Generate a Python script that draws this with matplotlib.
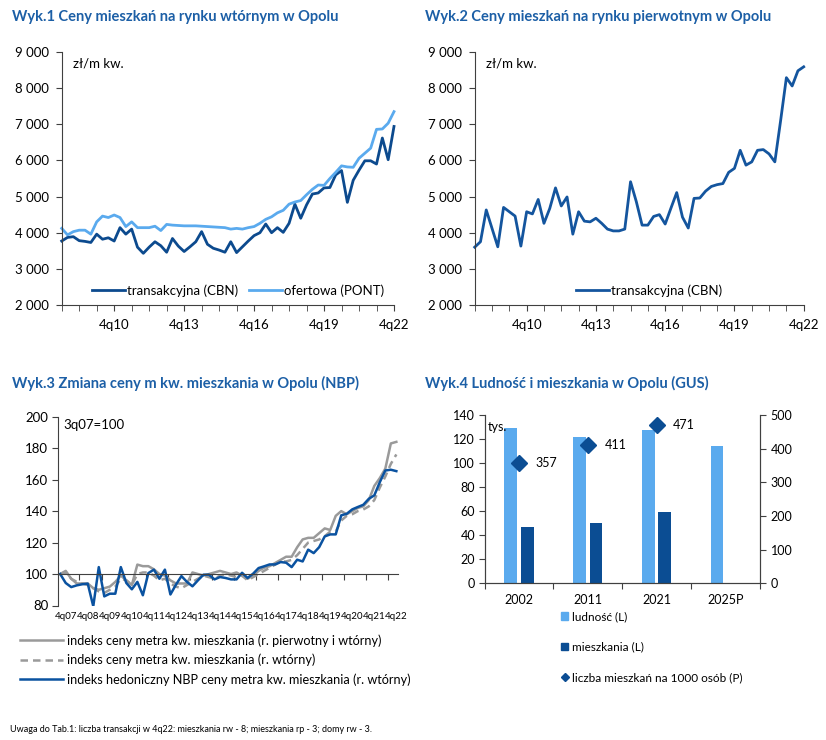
import numpy as np
import matplotlib
matplotlib.use("Agg")
import matplotlib.pyplot as plt
from matplotlib.ticker import FuncFormatter, MultipleLocator
from matplotlib.patches import Patch
from matplotlib.lines import Line2D

plt.rcParams['font.family'] = ['Lato', 'DejaVu Sans']

# --- dane ---
# Wyk.1 / Wyk.2: kwartaly 3q08 .. 4q22
rynek_ticks = ['4q10', '4q13', '4q16', '4q19', '4q22']
rynek_tick_pos = [9, 21, 33, 45, 57]

wtorny_cbn = [3770, 3870, 3890, 3780, 3760, 3730, 3960, 3820, 3860, 3770,
              4140, 3960, 4100, 3600, 3430, 3600, 3750, 3640, 3460, 3840,
              3630, 3480, 3610, 3750, 4030, 3680, 3570, 3520, 3460, 3750,
              3450, 3610, 3770, 3920, 4000, 4240, 4000, 4140, 4010, 4260,
              4790, 4400, 4770, 5070, 5100, 5240, 5250, 5600, 5720, 4840,
              5450, 5730, 5990, 5990, 5900, 6620, 6020, 6940]
wtorny_pont = [4120, 3940, 4030, 4070, 4070, 3960, 4300, 4460, 4420, 4490,
               4420, 4170, 4300, 4140, 4140, 4140, 4180, 4060, 4230, 4210,
               4200, 4190, 4190, 4190, 4180, 4170, 4160, 4150, 4140, 4100,
               4120, 4100, 4140, 4170, 4260, 4370, 4440, 4550, 4620, 4790,
               4850, 4890, 5050, 5200, 5320, 5310, 5500, 5670, 5850, 5820,
               5810, 6060, 6200, 6340, 6860, 6870, 7030, 7350]
pierwotny_cbn = [3600, 3750, 4630, 4120, 3610, 4700, 4580, 4460, 3630, 4580,
                 4520, 4920, 4260, 4670, 5240, 4740, 4990, 3960, 4580, 4320,
                 4300, 4400, 4260, 4100, 4050, 4050, 4100, 5410, 4860, 4210,
                 4210, 4450, 4500, 4240, 4680, 5110, 4430, 4130, 4950, 4960,
                 5150, 5280, 5330, 5360, 5670, 5780, 6280, 5870, 5960, 6280,
                 6300, 6180, 5960, 7100, 8290, 8060, 8480, 8590]

# Wyk.3: kwartaly 3q07 .. 4q22, 3q07=100
nbp_ticks = ['4q07', '4q08', '4q09', '4q10', '4q11', '4q12', '4q13', '4q14',
             '4q15', '4q16', '4q17', '4q18', '4q19', '4q20', '4q21', '4q22']
idx_pw = [100, 102, 97, 94, 94, 94, 91, 90, 91, 92,
          95, 99, 96, 93, 106, 105, 105, 103, 100, 99,
          96, 94, 94, 94, 101, 100, 99, 100, 101, 102,
          101, 100, 101, 99, 97, 99, 102, 104, 105, 107,
          109, 111, 111, 117, 122, 123, 123, 126, 129, 128,
          137, 140, 138, 140, 142, 143, 147, 156, 161, 167,
          183, 184]
idx_w = [100, 101, 97, 95, 94, 93, 91, 89, 88, 90,
         92, 97, 96, 93, 100, 101, 101, 99, 96, 97,
         94, 92, 91, 93, 95, 97, 99, 98, 97, 99,
         100, 99, 98, 99, 96, 98, 100, 102, 104, 106,
         108, 108, 109, 112, 116, 120, 121, 122, 124, 127,
         127, 134, 137, 138, 140, 141, 143, 147, 155, 162,
         170, 176]
idx_hed = [100, 94.3, 91.7, 92.8, 93.5, 93.9, 79.5, 104.4, 85.8, 87.5,
           87.5, 104.4, 94.3, 90.3, 95, 86.5, 100.6, 102.8, 97, 102.8,
           87, 93.2, 98.7, 95, 92.2, 96, 99.6, 99.6, 96.6, 98.1,
           97.5, 96.6, 96.6, 100.8, 97.5, 100.2, 103.8, 104.9, 106.1, 106.1,
           107.6, 107.2, 104.4, 109.1, 108, 115.5, 113.3, 117.1, 123.9, 125.2,
           125.2, 137.3, 138.3, 141.1, 142.6, 144, 147.8, 150, 158.4, 165.8,
           166.3, 165.4]

# Wyk.4
lata = ['2002', '2011', '2021', '2025P']
ludnosc = [129, 122, 127.5, 114.5]
mieszkania = [46.5, 50.5, 59.5, np.nan]
na_1000 = [357, 411, 471, np.nan]

# --- kolory ---
granat = '#0c4a8e'
jasny = '#5aaaee'
tytul_kolor = '#1c5fa6'
os_kolor = '#404040'
szary = '#9a9a9a'

W, H = 826, 740
fig = plt.figure(figsize=(W / 100, H / 100), dpi=100)


def box(x0, y0, x1, y1):
    return [x0 / W, 1 - y1 / H, (x1 - x0) / W, (y1 - y0) / H]


tys = FuncFormatter(lambda v, p: f'{v:,.0f}'.replace(',', ' '))


def rynek(ax, series, labels, colors):
    for s, lab, c in zip(series, labels, colors):
        ax.plot(range(len(s)), s, color=c, lw=2.0, label=lab, clip_on=False)
    ax.set_xlim(0, 57)
    ax.set_ylim(2000, 9000)
    ax.yaxis.set_major_locator(MultipleLocator(1000))
    ax.yaxis.set_major_formatter(tys)
    ax.set_xticks(rynek_tick_pos)
    ax.set_xticklabels(rynek_ticks)
    ax.set_xticks(np.arange(0, 58, 3), minor=True)
    ax.tick_params(axis='x', which='both', length=4, color=os_kolor)
    ax.tick_params(axis='x', which='major', pad=6, labelsize=9.5)
    ax.tick_params(axis='y', length=4, color=os_kolor, labelsize=9.5, pad=5)
    for sp in ['top', 'right']:
        ax.spines[sp].set_visible(False)
    for sp in ['left', 'bottom']:
        ax.spines[sp].set_color(os_kolor)
    ax.text(0.033, 0.955, 'zł/m kw.', transform=ax.transAxes, fontsize=9.5,
            va='center', ha='left')
    ax.legend(loc='lower center', bbox_to_anchor=(0.53, -0.015), ncol=2,
              frameon=False, fontsize=9.5, handlelength=2.5,
              handletextpad=0.15, columnspacing=0.8)


ax1 = fig.add_axes(box(61.7, 52, 394, 305))
rynek(ax1, [wtorny_cbn, wtorny_pont], ['transakcyjna (CBN)', 'ofertowa (PONT)'],
      [granat, jasny])

ax2 = fig.add_axes(box(474.7, 52, 803.7, 305))
rynek(ax2, [pierwotny_cbn], ['transakcyjna (CBN)'], ['#14559e'])

# --- Wyk.3 ---
ax3 = fig.add_axes(box(58, 416.7, 398, 605.5))
x3 = np.arange(len(idx_hed))
ax3.plot(x3, idx_pw, color=szary, lw=1.8)
ax3.plot(x3, idx_w, color=szary, lw=1.8, dashes=(3, 2))
ax3.plot(x3, idx_hed, color='#0a52a0', lw=1.8)
ax3.set_xlim(-0.4, 61.3)
ax3.set_ylim(80, 200)
ax3.yaxis.set_major_locator(MultipleLocator(20))
ax3.spines['bottom'].set_position(('data', 100))
for sp in ['top', 'right']:
    ax3.spines[sp].set_visible(False)
for sp in ['left', 'bottom']:
    ax3.spines[sp].set_color(os_kolor)
ax3.set_xticks(np.arange(3.5, 62, 4))
ax3.set_xticklabels([])
ax3.tick_params(axis='x', length=4, color=os_kolor)
ax3.tick_params(axis='y', length=4, color=os_kolor, labelsize=9.5, pad=3)
sec = ax3.secondary_xaxis(0)
sec.set_xticks(np.arange(1, 62, 4))
sec.set_xticklabels(nbp_ticks)
sec.tick_params(length=0, labelsize=7, pad=5)
sec.spines['bottom'].set_visible(False)
ax3.text(0.015, 0.955, '3q07=100', transform=ax3.transAxes, fontsize=9.5,
         va='center', ha='left')

leg3 = [Line2D([], [], color=szary, lw=1.8),
        Line2D([], [], color=szary, lw=1.8, dashes=(3, 2)),
        Line2D([], [], color='#0a52a0', lw=1.8)]
fig.legend(leg3, ['indeks ceny metra kw. mieszkania (r. pierwotny i wtórny)',
                  'indeks ceny metra kw. mieszkania (r. wtórny)',
                  'indeks hedoniczny NBP ceny metra kw. mieszkania (r. wtórny)'],
           loc='upper left', bbox_to_anchor=(20 / W, 1 - 634 / H),
           frameon=False, fontsize=9.1, handlelength=3.4, handletextpad=0.3,
           labelspacing=0.55, borderpad=0, borderaxespad=0)

# --- Wyk.4 ---
ax4 = fig.add_axes(box(484.7, 415, 759.7, 583.3))
ax4b = ax4.twinx()
x4 = np.arange(len(lata))
ax4.bar(x4 - 0.12, ludnosc, width=0.185, color=jasny)
ax4.bar(x4 + 0.12, mieszkania, width=0.185, color='#0b4d93')
ax4b.plot(x4, na_1000, 'D', color='#0b4d93', markersize=8.5)
for xi, v in zip(x4, na_1000):
    if not np.isnan(v):
        ax4b.text(xi + 0.24, v, f'{v:.0f}', va='center', ha='left', fontsize=9)
ax4.set_xlim(-0.5, 3.5)
ax4.set_ylim(0, 140)
ax4b.set_ylim(0, 500)
ax4.yaxis.set_major_locator(MultipleLocator(20))
ax4b.yaxis.set_major_locator(MultipleLocator(100))
ax4.set_xticks(np.arange(-0.5, 4, 1))
ax4.set_xticklabels([])
ax4.set_xticks(x4, minor=True)
ax4.set_xticklabels(lata, minor=True)
ax4.tick_params(axis='x', which='minor', length=0, pad=8, labelsize=9)
ax4.tick_params(axis='x', which='major', length=4, color=os_kolor)
ax4.tick_params(axis='y', length=4, color=os_kolor, labelsize=9, pad=3)
ax4b.tick_params(axis='y', length=4, color=os_kolor, labelsize=9, pad=4)
for a in (ax4, ax4b):
    a.spines['top'].set_visible(False)
    for sp in ['left', 'right', 'bottom']:
        a.spines[sp].set_color(os_kolor)
ax4.text(0.012, 0.93, 'tys.', transform=ax4.transAxes, fontsize=9,
         va='center', ha='left')

leg4 = [Patch(color=jasny), Patch(color='#0b4d93'),
        Line2D([], [], marker='D', color='#0b4d93', ls='none', markersize=4)]
fig.legend(leg4, ['ludność (L)', 'mieszkania (L)', 'liczba mieszkań na 1000 osób (P)'],
           loc='upper left', bbox_to_anchor=(561 / W, 1 - 611 / H),
           frameon=False, fontsize=8.5, handlelength=0.6, handleheight=0.6,
           handletextpad=0.3, labelspacing=1.65, borderpad=0, borderaxespad=0)

# --- tytuly ---
fig.text(12 / W, 1 - 17 / H, 'Wyk.1 Ceny mieszkań na rynku wtórnym w Opolu',
         color=tytul_kolor, fontsize=10.5, fontweight='bold', va='center')
fig.text(425 / W, 1 - 17 / H, 'Wyk.2 Ceny mieszkań na rynku pierwotnym w Opolu',
         color=tytul_kolor, fontsize=10.5, fontweight='bold', va='center')
fig.text(12 / W, 1 - 383 / H, 'Wyk.3 Zmiana ceny m kw. mieszkania w Opolu (NBP)',
         color=tytul_kolor, fontsize=10.5, fontweight='bold', va='center')
fig.text(425 / W, 1 - 383 / H, 'Wyk.4 Ludność i mieszkania w Opolu (GUS)',
         color=tytul_kolor, fontsize=10.5, fontweight='bold', va='center')

fig.text(10 / W, 1 - 729 / H,
         'Uwaga do Tab.1: liczba transakcji w 4q22: mieszkania rw - 8; '
         'mieszkania rp - 3; domy rw - 3.', fontsize=6.5, va='center')

fig.savefig('out.png', dpi=100)
